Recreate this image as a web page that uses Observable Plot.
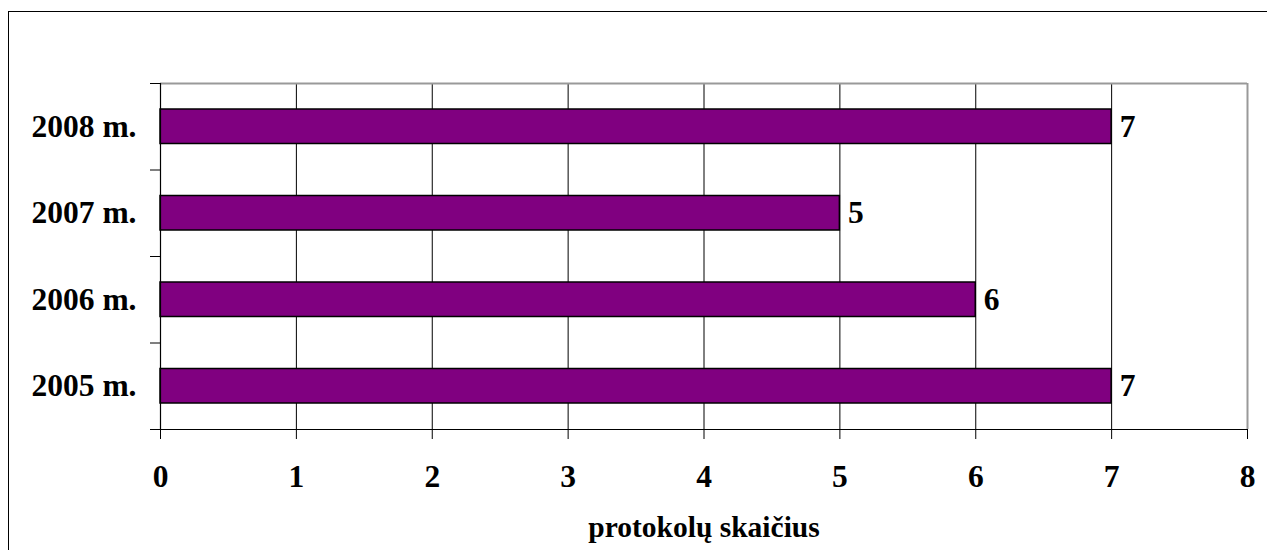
<!DOCTYPE html>
<html>
<head>
<meta charset="utf-8">
<script src="https://cdn.jsdelivr.net/npm/d3@7"></script>
<script src="https://cdn.jsdelivr.net/npm/@observablehq/plot@0.6"></script>
<style>
  html, body { margin: 0; padding: 0; background: #fff; overflow: hidden; }
  #wrap { position: relative; width: 1267px; height: 550px; }
  #frame { position: absolute; left: 8px; top: 11px; width: 1400px; height: 700px;
           border-left: 1.5px solid #000; border-top: 1.5px solid #000; box-sizing: border-box; pointer-events: none; }
  #chart { position: absolute; left: 0; top: 0; }
</style>
</head>
<body>
<div id="wrap"><div id="frame"></div><div id="chart"></div></div>
<script>
const categories = ["2005 m.", "2006 m.", "2007 m.", "2008 m."];
const values = [7, 6, 5, 7];
const xTicks = [0, 1, 2, 3, 4, 5, 6, 7, 8];
const xLabel = "protokolų skaičius";

const data = categories.map((c, i) => ({category: c, value: values[i], i}));
const bandEdges = d3.range(0, categories.length + 1);

const chart = Plot.plot({
  width: 1267,
  height: 550,
  marginLeft: 160,
  marginRight: 20,
  marginTop: 83,
  marginBottom: 121,
  style: {fontFamily: "'Liberation Serif', 'Times New Roman', serif", fontWeight: "bold", background: "transparent", color: "#000"},
  x: {domain: [xTicks[0], xTicks[xTicks.length - 1]], axis: null},
  y: {domain: [0, categories.length], axis: null},
  marks: [
    Plot.ruleX(xTicks.slice(1, -1), {stroke: "#000", strokeWidth: 1}),
    Plot.ruleX([xTicks[xTicks.length - 1]], {stroke: "#999", strokeWidth: 2}),
    Plot.ruleY([categories.length], {stroke: "#999", strokeWidth: 2}),
    Plot.rectX(data, {x1: 0, x2: "value", y1: "i", y2: d => d.i + 1, insetTop: 26, insetBottom: 26,
      fill: "#800080", stroke: "#000", strokeWidth: 1.5}),
    Plot.ruleX([0], {stroke: "#000", strokeWidth: 1.2}),
    Plot.ruleY([0], {stroke: "#000", strokeWidth: 1.2}),
    Plot.axisY(bandEdges, {tickSize: 10, fill: "none", stroke: "#000", label: null}),
    Plot.axisX(xTicks, {tickSize: 10, tickPadding: 25, fontSize: 31.5, label: null, stroke: "#000", tickFormat: d => String(d)}),
    Plot.text(data, {x: 0, y: d => d.i + 0.5, text: "category", textAnchor: "end", dx: -24, fontSize: 31.5, lineAnchor: "middle"}),
    Plot.text(data, {x: "value", y: d => d.i + 0.5, text: d => String(d.value), textAnchor: "start", dx: 8, fontSize: 31.5, lineAnchor: "middle"}),
    Plot.text([xLabel], {frameAnchor: "bottom", dy: 98, fontSize: 29.5, lineAnchor: "middle"})
  ]
});
document.getElementById("chart").appendChild(chart);
</script>
</body>
</html>
